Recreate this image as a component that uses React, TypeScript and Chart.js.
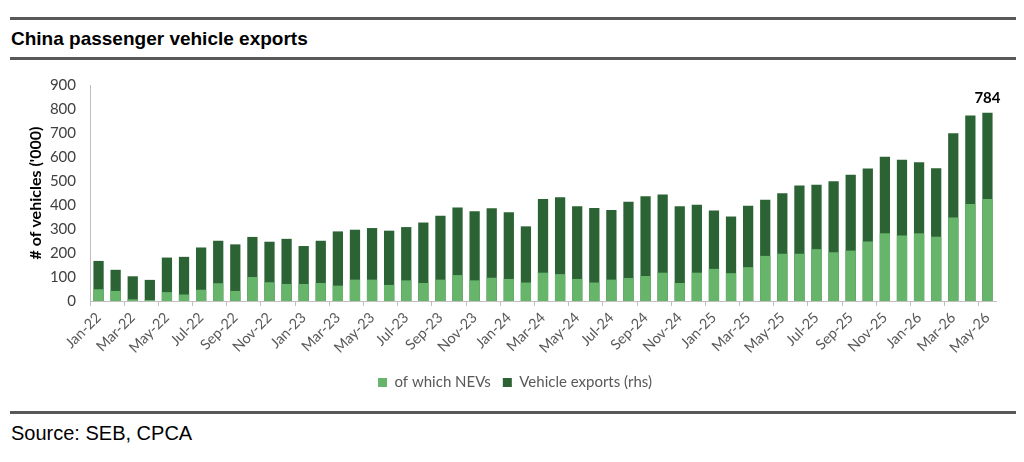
import { useEffect, useRef } from 'react';
import { Chart, registerables } from 'chart.js';

Chart.register(...registerables);

const months = [
  'Jan-22', 'Feb-22', 'Mar-22', 'Apr-22', 'May-22', 'Jun-22', 'Jul-22', 'Aug-22', 'Sep-22', 'Oct-22', 'Nov-22', 'Dec-22',
  'Jan-23', 'Feb-23', 'Mar-23', 'Apr-23', 'May-23', 'Jun-23', 'Jul-23', 'Aug-23', 'Sep-23', 'Oct-23', 'Nov-23', 'Dec-23',
  'Jan-24', 'Feb-24', 'Mar-24', 'Apr-24', 'May-24', 'Jun-24', 'Jul-24', 'Aug-24', 'Sep-24', 'Oct-24', 'Nov-24', 'Dec-24',
  'Jan-25', 'Feb-25', 'Mar-25', 'Apr-25', 'May-25', 'Jun-25', 'Jul-25', 'Aug-25', 'Sep-25', 'Oct-25', 'Nov-25', 'Dec-25',
  'Jan-26', 'Feb-26', 'Mar-26', 'Apr-26', 'May-26',
];

// total passenger vehicle exports ('000)
const vehicleExports = [
  167, 130, 103, 88, 181, 184, 223, 251, 236, 267, 247, 259,
  229, 251, 290, 297, 304, 293, 308, 327, 355, 390, 374, 386,
  370, 311, 425, 432, 395, 388, 379, 414, 436, 444, 395, 401,
  377, 352, 397, 422, 449, 481, 484, 499, 526, 552, 601, 589,
  578, 553, 699, 773, 784,
];

// of which NEVs ('000)
const nevExports = [
  49, 42, 7, 4, 37, 27, 47, 74, 42, 100, 78, 71,
  71, 75, 64, 89, 89, 67, 86, 75, 89, 108, 86, 97,
  92, 77, 118, 112, 92, 77, 89, 96, 104, 118, 75, 118,
  134, 116, 141, 188, 197, 197, 216, 203, 210, 248, 282, 273,
  282, 268, 348, 404, 425,
];

const yMin = 0;
const yMax = 900;
const yStep = 100;
const yTitle = "# of vehicles ('000)";

const LIGHT = '#67b56b';
const DARK = '#2c6334';
const AXIS = '#bfbfbf';
const TEXT = '#595959';
const FONT = 'Lato, "Noto Sans", sans-serif';

// value label above the last bar + y-axis title drawn in the left margin
const extrasPlugin = {
  id: 'extras',
  afterDraw(chart: any) {
    const ctx = chart.ctx;
    const meta = chart.getDatasetMeta(1);
    const idx = vehicleExports.length - 1;
    const bar = meta.data[idx];
    ctx.save();
    if (bar) {
      ctx.font = `bold 15px ${FONT}`;
      ctx.fillStyle = '#000';
      ctx.textAlign = 'center';
      ctx.textBaseline = 'middle';
      ctx.fillText(String(vehicleExports[idx]), bar.x, bar.y - 14.5);
    }
    const { top, bottom } = chart.chartArea;
    ctx.translate(36, (top + bottom) / 2);
    ctx.rotate(-Math.PI / 2);
    ctx.font = `bold 16px ${FONT}`;
    ctx.fillStyle = '#000';
    ctx.textAlign = 'center';
    ctx.textBaseline = 'middle';
    ctx.fillText(yTitle, 0, 0);
    ctx.restore();
  },
};

const ExportsChart = () => {
  const canvasRef = useRef<HTMLCanvasElement | null>(null);
  const chartRef = useRef<Chart | null>(null);

  useEffect(() => {
    if (!canvasRef.current) return;
    if (chartRef.current) chartRef.current.destroy();
    const ctx = canvasRef.current.getContext('2d');
    if (!ctx) return;

    chartRef.current = new Chart(ctx, {
      type: 'bar',
      data: {
        labels: months,
        datasets: [
          {
            label: 'of which NEVs',
            data: nevExports,
            backgroundColor: LIGHT,
            grouped: false,
            order: 0,
          } as any,
          {
            label: 'Vehicle exports (rhs)',
            data: vehicleExports,
            backgroundColor: DARK,
            grouped: false,
            order: 1,
          } as any,
        ],
      },
      options: {
        animation: false,
        responsive: true,
        maintainAspectRatio: false,
        datasets: { bar: { barPercentage: 0.6, categoryPercentage: 1 } },
        layout: { padding: { left: 34, right: 28, top: 19.5, bottom: 2 } },
        plugins: {
          legend: {
            position: 'bottom',
            labels: {
              boxWidth: 9,
              boxHeight: 9,
              padding: 12,
              color: TEXT,
              font: { family: FONT, size: 15 },
            },
          },
          tooltip: { enabled: false },
        },
        scales: {
          x: {
            afterFit: (s: any) => { s.height = 62; },
            border: { display: true, color: AXIS },
            grid: {
              display: true,
              drawOnChartArea: false,
              drawTicks: true,
              tickLength: 5,
              offset: true,
              color: (c: any) => (c.index % 2 === 0 ? AXIS : 'rgba(0,0,0,0)'),
            },
            ticks: {
              autoSkip: false,
              maxRotation: 45,
              minRotation: 45,
              padding: 3,
              color: TEXT,
              font: { family: FONT, size: 14.5 },
              callback: (_v: any, i: number) => (i % 2 === 0 ? months[i] : ''),
            },
          },
          y: {
            min: yMin,
            max: yMax,
            afterFit: (s: any) => { s.width = 56; },
            border: { display: true, color: AXIS },
            grid: { display: false, drawTicks: false },
            ticks: {
              stepSize: yStep,
              padding: 14,
              color: '#404040',
              font: { family: FONT, size: 15 },
            },
          },
        },
      },
      plugins: [extrasPlugin],
    });

    return () => {
      if (chartRef.current) {
        chartRef.current.destroy();
        chartRef.current = null;
      }
    };
  }, []);

  return (
    <div style={{ position: 'absolute', left: 0, top: 62, width: 1024, height: 340 }}>
      <canvas ref={canvasRef} />
    </div>
  );
};

const rule = (top: number) => (
  <div style={{ position: 'absolute', left: 10, top, width: 1006, height: 3, background: '#595959' }} />
);

export default function App() {
  return (
    <div
      style={{
        position: 'absolute',
        left: 0,
        top: 0,
        width: 1024,
        height: 462,
        background: '#fff',
        fontFamily: '"Liberation Sans", Arial, sans-serif',
        overflow: 'hidden',
      }}
    >
      {rule(17)}
      <div style={{ position: 'absolute', left: 11, top: 28, fontSize: 19, fontWeight: 'bold', color: '#000', lineHeight: '22px' }}>
        China passenger vehicle exports
      </div>
      {rule(57)}
      <ExportsChart />
      {rule(411)}
      <div style={{ position: 'absolute', left: 11, top: 421, fontSize: 20, color: '#000', lineHeight: '24px' }}>
        Source: SEB, CPCA
      </div>
    </div>
  );
}
